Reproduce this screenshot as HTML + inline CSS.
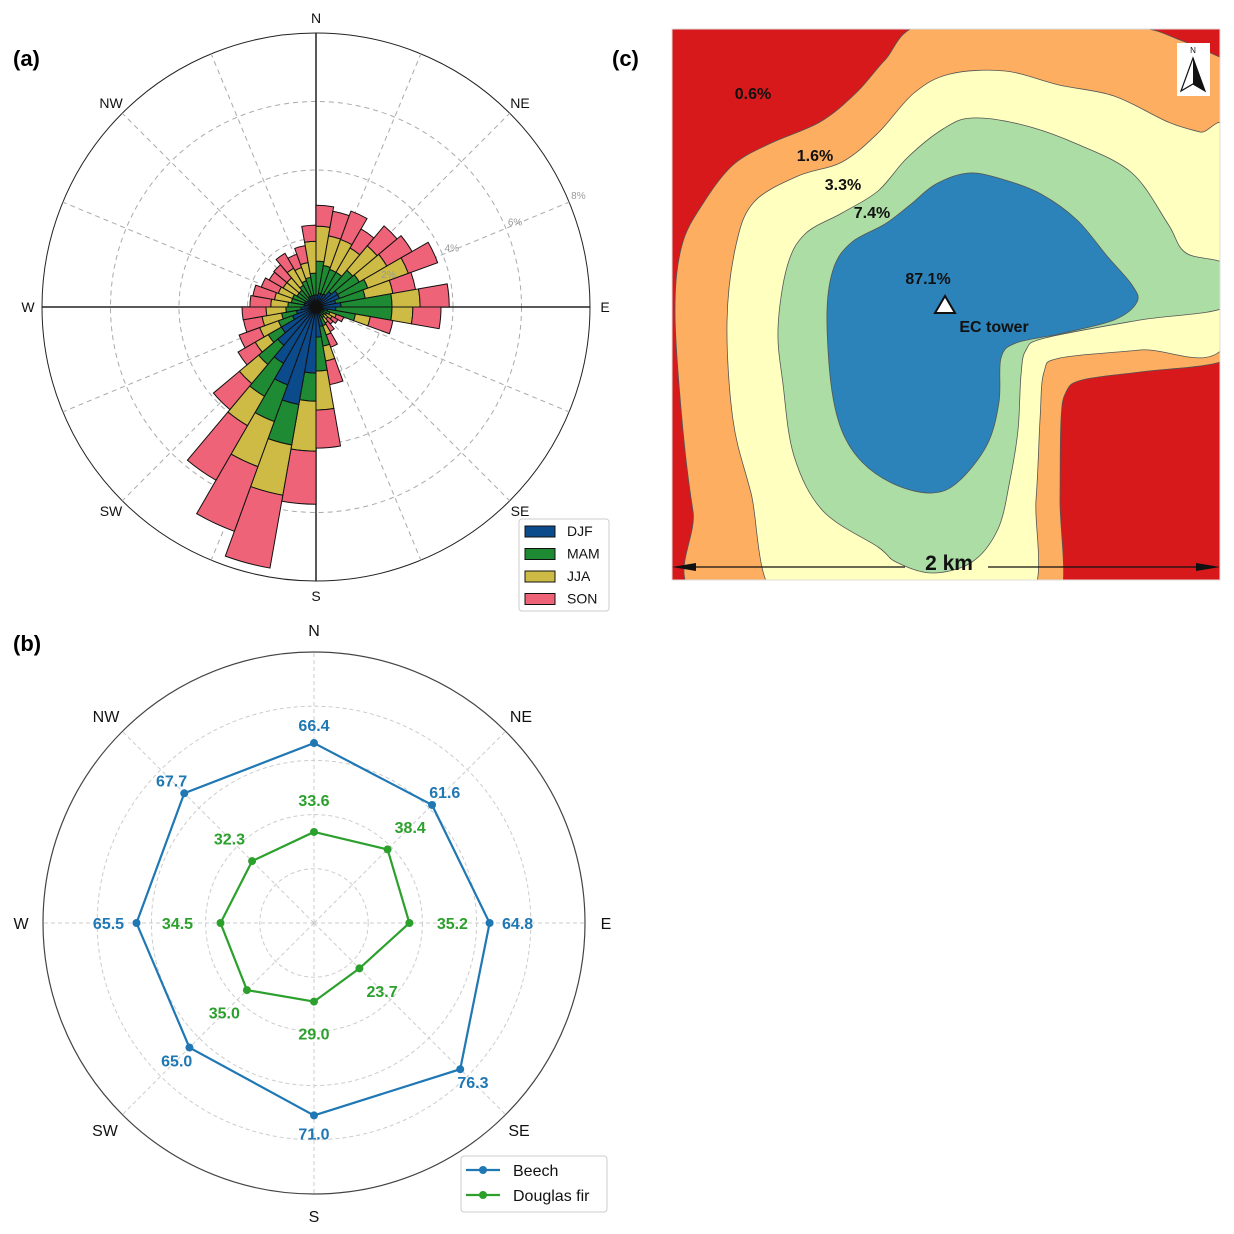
<!DOCTYPE html>
<html><head><meta charset="utf-8"><style>
html,body{margin:0;padding:0;background:#fff;}
svg{display:block;font-family:"Liberation Sans",sans-serif;}
</style></head><body>
<svg id="fig" width="1234" height="1234" viewBox="0 0 1234 1234">
<text x="13" y="66" font-size="22" font-weight="bold">(a)</text>
<text x="13" y="651" font-size="22" font-weight="bold">(b)</text>
<text x="612" y="66" font-size="22" font-weight="bold">(c)</text>
<g id="rose"></g>
<g id="radar"></g>
<g id="map"></g>
</svg>
<script>
// ---------- Panel (a) wind rose data (percent, 36 sectors of 10°) ----------
const sectorStarts=[0,10,20,30,40,50,60,70,80,90,100,110,120,130,140,150,160,170,180,190,200,210,220,230,240,250,260,270,280,290,300,310,320,330,340,350];
const djf=[.35,.41,.41,.44,.58,.73,.73,.58,.73,.58,.35,.23,.18,.15,.18,.29,.58,.88,1.93,2.89,2.42,1.9,1.46,1.17,.73,.58,.44,.35,.35,.35,.29,.29,.35,.35,.35,.35];
const mam=[.99,.82,.76,.73,.82,.73,.88,.88,1.49,1.64,.82,.2,.18,.15,.18,.29,.58,.99,.82,1.2,1.14,1.11,.73,.44,.44,.44,.44,.47,.38,.38,.35,.35,.38,.47,.53,.64];
const jja=[1.02,.88,.93,.82,.93,.93,1.26,.82,.82,.61,.44,.2,.18,.15,.18,.29,.44,1.14,1.46,1.49,1.4,.99,.73,.44,.58,.58,.58,.5,.5,.44,.47,.47,.58,.41,.44,.93];
const son=[.61,.73,.88,.64,.76,.85,.91,.67,.85,.82,.67,.23,.2,.2,.29,.38,.7,1.11,1.55,2.16,2.01,1.84,.99,.58,.64,.55,.7,.61,.64,.53,.47,.5,.5,.41,.5,.47];
const roseTicks=[2,4,6,8];
const roseTickLabels=["2%","4%","6%","8%"];
const seasonNames=["DJF","MAM","JJA","SON"];
const seasonColors=["#0b4a8b","#1f8a34","#cdbb45","#ef6378"];

// ---------- Panel (b) radar data ----------
const dirs=["N","NE","E","SE","S","SW","W","NW"];
const beech=[66.4,61.6,64.8,76.3,71.0,65.0,65.5,67.7];
const douglas=[33.6,38.4,35.2,23.7,29.0,35.0,34.5,32.3];
const radarTicks=[20,40,60,80];

const NS="http://www.w3.org/2000/svg";
function mk(tag,attrs,parent){const e=document.createElementNS(NS,tag);for(const k in attrs)e.setAttribute(k,attrs[k]);parent.appendChild(e);return e;}

// ===== wind rose =====
(function(){
const g=document.getElementById('rose');
const cx=316,cy=307,R=274,maxV=8;
const r=v=>v/maxV*R;
const pt=(deg,rad)=>{const a=deg*Math.PI/180;return [cx+rad*Math.sin(a),cy-rad*Math.cos(a)];};
let c=mk('circle',{cx:cx,cy:cy,r:R,fill:'none',stroke:'#222','stroke-width':1},g);


roseTicks.slice(0,3).forEach(t=>{const e=mk('circle',{cx:cx,cy:cy,r:r(t),fill:'none',stroke:'#aaa','stroke-width':1,'stroke-dasharray':'5,4'},g);

});
for(let i=0;i<16;i++){const d=i*22.5;const p=pt(d,R);const solid=(i%4===0);
const e=mk('line',{x1:cx,y1:cy,x2:p[0],y2:p[1],stroke:solid?'#222':'#aaa','stroke-width':solid?1.5:1,'stroke-dasharray':solid?'none':'5,4'},g);

}
sectorStarts.forEach((s,i)=>{const vals=[djf[i],mam[i],jja[i],son[i]];let base=0;
vals.forEach((v,k)=>{const r0=r(base),r1=r(base+v);base+=v;
const a=pt(s,r0),b=pt(s,r1),cc=pt(s+10,r1),d=pt(s+10,r0);
const path=`M${a[0]},${a[1]}L${b[0]},${b[1]}A${r1},${r1} 0 0 1 ${cc[0]},${cc[1]}L${d[0]},${d[1]}A${r0},${r0} 0 0 0 ${a[0]},${a[1]}Z`;
const e=mk('path',{d:path,fill:seasonColors[k],stroke:'#111','stroke-width':1},g);

});});
roseTicks.forEach((t,i)=>{const p=pt(67.5,r(t));const e=mk('text',{x:p[0]+2,y:p[1]-3,'font-size':10,fill:'#999'},g);e.textContent=roseTickLabels[i];

});
const lbl=[["N",316,23],["NE",520,108],["E",605,312],["SE",520,516],["S",316,601],["SW",111,516],["W",28,312],["NW",111,108]];
lbl.forEach(l=>{const e=mk('text',{x:l[1],y:l[2],'font-size':14,'text-anchor':'middle',fill:'#111'},g);e.textContent=l[0];

});
const lg=mk('g',{},g);


mk('rect',{x:519,y:519,width:90,height:92,fill:'#fff',stroke:'#ccc',rx:3},lg);
seasonNames.forEach((n,k)=>{const y=531+k*22.5;
const sw=mk('rect',{x:525,y:y-5,width:30,height:11,fill:seasonColors[k],stroke:'#111','stroke-width':1},lg);


const t=mk('text',{x:567,y:y+5,'font-size':14,fill:'#111'},lg);t.textContent=n;

});
})();

// ===== radar =====
(function(){
const g=document.getElementById('radar');
const cx=314,cy=923,R=271,maxV=100;
const r=v=>v/maxV*R;
const pt=(i,rad)=>{const a=i*45*Math.PI/180;return [cx+rad*Math.sin(a),cy-rad*Math.cos(a)];};
radarTicks.forEach(t=>{const e=mk('circle',{cx:cx,cy:cy,r:r(t),fill:'none',stroke:'#ccc','stroke-width':1,'stroke-dasharray':'4,3'},g);

});
dirs.forEach((d,i)=>{const p=pt(i,R);const e=mk('line',{x1:cx,y1:cy,x2:p[0],y2:p[1],stroke:'#ccc','stroke-width':1,'stroke-dasharray':'4,3'},g);

});
const oc=mk('circle',{cx:cx,cy:cy,r:R,fill:'none',stroke:'#444','stroke-width':1.2},g);


function series(vals,color,name,off,offEW){
const pts=vals.map((v,i)=>pt(i,r(v)));
const pl=mk('polygon',{points:pts.map(p=>p.join(',')).join(' '),fill:'none',stroke:color,'stroke-width':2.2},g);


vals.forEach((v,i)=>{const p=pts[i];
const m=mk('circle',{cx:p[0],cy:p[1],r:4,fill:color},g);


const o=(i%4===2)?offEW:off;const a=i*45*Math.PI/180;
const x=p[0]+o*Math.sin(a),y=p[1]-o*Math.cos(a);
const t=mk('text',{x:x,y:y+6,'font-size':16,'font-weight':'bold',fill:color,'text-anchor':'middle'},g);t.textContent=v.toFixed(1);

});}
series(beech,'#1f77b4','beech',18,28);
series(douglas,'#2ca02c','douglas',32,43);
const lbl=[["N",314,636],["NE",521,722],["E",606,929],["SE",519,1136],["S",314,1222],["SW",105,1136],["W",21,929],["NW",106,722]];
lbl.forEach(l=>{const e=mk('text',{x:l[1],y:l[2],'font-size':16,'text-anchor':'middle',fill:'#111'},g);e.textContent=l[0];

});
const lg=mk('g',{},g);


mk('rect',{x:461,y:1156,width:146,height:56,fill:'#fff',stroke:'#ccc',rx:3},lg);
[['Beech','#1f77b4',1170],['Douglas fir','#2ca02c',1195]].forEach(e0=>{
const l=mk('line',{x1:466,y1:e0[2],x2:500,y2:e0[2],stroke:e0[1],'stroke-width':2.2},lg);


const c=mk('circle',{cx:483,cy:e0[2],r:4,fill:e0[1]},lg);


const t=mk('text',{x:513,y:e0[2]+6,'font-size':16,fill:'#111'},lg);t.textContent=e0[0];

});
})();

// ===== map =====
(function(){
const g=document.getElementById('map');
const cp=mk('clipPath',{id:'mclip'},g);mk('rect',{x:672,y:29,width:548,height:551},cp);
const m=mk('g',{'clip-path':'url(#mclip)'},g);
const bg=mk('rect',{x:672,y:29,width:548,height:551,fill:'#d7191c'},m);


function smooth(P){const n=P.length;let d=`M${P[0][0]},${P[0][1]}`;
for(let i=0;i<n;i++){const p0=P[(i-1+n)%n],p1=P[i],p2=P[(i+1)%n],p3=P[(i+2)%n];
d+=`C${p1[0]+(p2[0]-p0[0])/6},${p1[1]+(p2[1]-p0[1])/6} ${p2[0]-(p3[0]-p1[0])/6},${p2[1]-(p3[1]-p1[1])/6} ${p2[0]},${p2[1]}`;}
return d+'Z';}
const zones=[
['footprint-zone-1.6','#fdae61',[[921,25],[1030,25],[1135,27],[1180,40],[1222,58],[1228,60],[1228,340],[1220,362],[1140,372],[1082,380],[1066,392],[1061,420],[1060,500],[1059,600],[1000,602],[711,602],[693,511],[682,420],[675,311],[682,245],[704,202],[733,165],[769,144],[820,122],[856,93],[885,60]]],
['footprint-zone-3.3','#ffffbf',[[780,602],[751,493],[733,420],[727,322],[736,245],[754,202],[798,176],[842,162],[878,133],[914,93],[950,74],[1005,71],[1059,85],[1114,96],[1168,122],[1200,132],[1228,139],[1228,340],[1140,350],[1060,358],[1044,372],[1040,420],[1036,500],[1026,602],[900,604]]],
['footprint-zone-7.4','#abdda4',[[878,547],[823,511],[794,456],[783,384],[778,329],[787,267],[805,234],[842,213],[878,191],[907,158],[943,129],[972,118],[1023,125],[1077,144],[1132,173],[1168,224],[1186,253],[1228,266],[1228,306],[1140,320],[1045,338],[1026,350],[1021,375],[1018,430],[1010,480],[998,529],[972,562],[932,573],[896,562]]],
['footprint-zone-87.1','#2b83ba',[[827,311],[834,267],[852,242],[885,224],[910,205],[936,184],[969,173],[1005,180],[1041,194],[1077,220],[1107,256],[1132,285],[1137,302],[1114,320],[1059,334],[1016,343],[1001,358],[999,402],[987,445],[958,482],[932,493],[896,485],[863,463],[842,431],[831,384]]]];
zones.forEach(z=>{const e=mk('path',{d:smooth(z[2]),fill:z[1],stroke:'#555','stroke-width':0.8},m);

});
const fr=mk('rect',{x:672,y:29,width:548,height:551,fill:'none',stroke:'#ddd','stroke-width':1},g);


const labels=[['0.6%',753,99,16],['1.6%',815,161,16],['3.3%',843,190,16],['7.4%',872,218,16],['87.1%',928,284,16],['EC tower',994,332,16]];
labels.forEach(l=>{const t=mk('text',{x:l[1],y:l[2],'font-size':l[3],'font-weight':'bold','text-anchor':'middle',fill:'#111'},g);t.textContent=l[0];

});
const tri=mk('polygon',{points:'945,296 935,313 955,313',fill:'#fff',stroke:'#111','stroke-width':2},g);


const sb=mk('g',{},g);


mk('line',{x1:680,y1:567,x2:905,y2:567,stroke:'#111','stroke-width':1.2},sb);
mk('line',{x1:988,y1:567,x2:1212,y2:567,stroke:'#111','stroke-width':1.2},sb);
mk('polygon',{points:'672,567 696,563 696,571',fill:'#111'},sb);
mk('polygon',{points:'1220,567 1196,563 1196,571',fill:'#111'},sb);
const st=mk('text',{x:949,y:570,'font-size':21,'font-weight':'bold','text-anchor':'middle',fill:'#111'},sb);st.textContent='2 km';
const na=mk('g',{},g);


mk('rect',{x:1177,y:43,width:33,height:53,fill:'#fff'},na);
mk('polygon',{points:'1193,58 1181,91 1193,84 1205,91',fill:'#fff',stroke:'#111','stroke-width':1.2},na);
mk('polygon',{points:'1193,58 1193,84 1205,91',fill:'#111'},na);
const nt=mk('text',{x:1193,y:53,'font-size':8,'text-anchor':'middle',fill:'#111'},na);nt.textContent='N';
})();
</script>
</body></html>
